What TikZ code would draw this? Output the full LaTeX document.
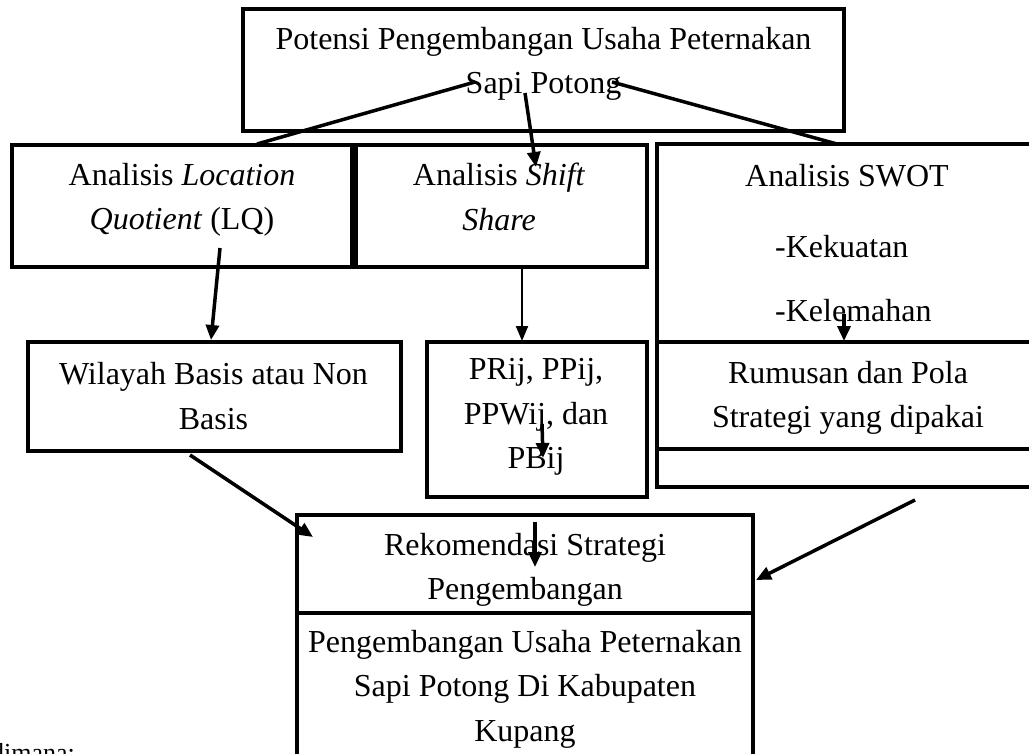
\documentclass[tikz,border=0pt]{standalone}
\usepackage{fontspec}
\setmainfont{Liberation Serif}
\usetikzlibrary{arrows.meta, positioning}

\begin{document}
\begin{tikzpicture}[x=1pt, y=-1pt,
  font=\fontsize{32}{44.5}\selectfont,
  box/.style={draw, line width=3.5pt, inner sep=0pt},
  txt/.style={align=center, inner sep=0pt},
  link/.style={line width=3.5pt},
  arr/.style={line width=3.5pt, -{Triangle[length=15pt, width=13pt]}},
  thinarr/.style={line width=2pt, -{Triangle[length=15pt, width=12pt]}}]
  \useasboundingbox (0,0) rectangle (1029,753);

  % boxes
  \node[box, minimum width=601pt, minimum height=122pt] (potensi) at (543.5,70) {};
  \node[box, minimum width=340pt, minimum height=122pt] (lq) at (182,206) {};
  \node[box, minimum width=291pt, minimum height=122pt] (shift) at (501.5,206) {};
  \node[box, minimum width=383pt, minimum height=343pt] (swot) at (848.5,315.5) {};
  \node[box, minimum width=383pt, minimum height=107pt] (rumusan) at (848.5,395.5) {};
  \node[box, minimum width=373pt, minimum height=109pt] (wilayah) at (214.5,396.5) {};
  \node[box, minimum width=220pt, minimum height=155pt] (prij) at (537,419.5) {};
  \node[box, minimum width=456pt, minimum height=98pt] (rekom) at (525,564) {};
  \node[box, minimum width=456pt, minimum height=167pt] (hasil) at (525,696.5) {};

  % texts
  \node[txt] (potensiTxt) at (543.5,64) {Potensi Pengembangan Usaha Peternakan\\Sapi Potong};
  \node[txt] (lqTxt) at (182,200) {Analisis \textit{Location}\\\textit{Quotient} (LQ)};
  \node[txt] (shiftTxt) at (499,197) {Analisis \textit{Shift}\\\textit{Share}};
  \node[txt, anchor=base] (swotTxt) at (847,186) {Analisis SWOT};
  \node[txt, anchor=base west] (kuat) at (775,257) {-Kekuatan};
  \node[txt, anchor=base west] (lemah) at (775,321) {-Kelemahan};
  \node[txt] (wilayahTxt) at (213.5,396) {Wilayah Basis atau Non\\Basis};
  \node[txt] (prijTxt) at (536,417) {PRij, PPij,\\PPWij, dan\\PBij};
  \node[txt] (rumusanTxt) at (848,398) {Rumusan dan Pola\\Strategi yang dipakai};
  \node[txt] (rekomTxt) at (525,570) {Rekomendasi Strategi\\Pengembangan};
  \node[txt] (hasilTxt) at (525,689) {Pengembangan Usaha Peternakan\\Sapi Potong Di Kabupaten\\Kupang};
  \node[txt, anchor=base west, font=\fontsize{26}{30}\selectfont] (dimana) at (-9,761) {dimana:};

  % connector ends
  \coordinate (lqJoin) at (257,144);
  \coordinate (sapiL) at (475,82);
  \coordinate (potongR) at (612,82);
  \coordinate (swotJoin) at (837,144);
  \coordinate (sapiMid) at (525,93);
  \coordinate (shiftIn) at (536,167);
  \coordinate (lqOut) at (220,248);
  \coordinate (wilayahIn) at (211,340);
  \coordinate (shiftOut) at (522,268);
  \coordinate (prijIn) at (522,341);
  \coordinate (swotOut) at (844,314);
  \coordinate (rumusanIn) at (844,341);
  \coordinate (prijMid) at (542,424);
  \coordinate (prijLow) at (543,458);
  \coordinate (wilayahOut) at (190,455);
  \coordinate (rekomInL) at (313,537);
  \coordinate (pbijOut) at (535,522);
  \coordinate (rekomMid) at (535,567);
  \coordinate (rumusanOut) at (915,500);
  \coordinate (rekomInR) at (756,580);

  % connectors
  \draw[link] (lqJoin) -- (sapiL);
  \draw[link] (potongR) -- (swotJoin);
  \draw[arr] (sapiMid) -- (shiftIn);
  \draw[arr] (lqOut) -- (wilayahIn);
  \draw[thinarr] (shiftOut) -- (prijIn);
  \draw[arr] (swotOut) -- (rumusanIn);
  \draw[arr] (prijMid) -- (prijLow);
  \draw[arr] (wilayahOut) -- (rekomInL);
  \draw[arr] (pbijOut) -- (rekomMid);
  \draw[arr] (rumusanOut) -- (rekomInR);
\end{tikzpicture}
\end{document}
